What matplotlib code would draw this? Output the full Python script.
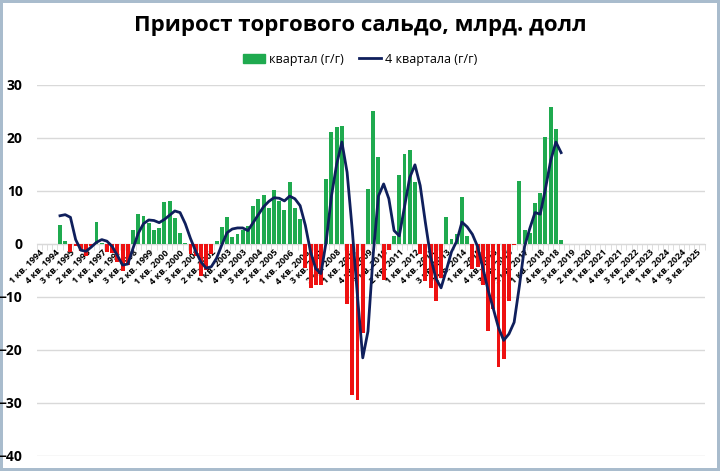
import numpy as np
import matplotlib.pyplot as plt
from matplotlib.patches import Patch
from matplotlib.lines import Line2D

plt.rcParams['font.family'] = ['Open Sans', 'DejaVu Sans']

# categories: 1 кв. 1994 ... 4 кв. 2025
years = list(range(1994, 2026))
quarters = [f'{q} кв. {y}' for y in years for q in range(1, 5)]
start = quarters.index('1 кв. 1995')

# quarterly y/y change, bn USD (1 кв. 1995 - 1 кв. 2019)
quarter_yy = [3.6, 0.5, -1.6, -0.4,
              -1.3, -2.2, -0.4, 4.2,
              0.2, -1.5, -1.8, -3.5,
              -5.2, -3.9, 2.6, 5.7,
              5.3, 4.0, 2.6, 2.9,
              7.8, 8.0, 4.8, 2.1,
              0.2, -2.0, -2.3, -6.0,
              -5.0, -2.0, 0.6, 3.1,
              5.1, 1.3, 1.9, 2.6,
              3.4, 7.2, 8.5, 9.2,
              6.8, 10.2, 8.1, 6.4,
              11.7, 6.8, 4.7, -4.5,
              -8.3, -7.8, -7.8, 12.3,
              21.0, 22.0, 22.3, -11.3,
              -28.5, -29.5, -16.8, 10.4,
              25.1, 16.3, -6.8, -1.2,
              1.5, 13.0, 17.0, 17.7,
              11.6, -1.9, -7.0, -8.3,
              -10.7, -6.5, 5.1, 0.9,
              1.9, 8.9, 1.5, -4.7,
              -4.4, -7.8, -16.5, -12.2,
              -23.3, -21.7, -10.8, -0.3,
              11.9, 2.6, 2.1, 7.7,
              9.6, 20.2, 25.8, 21.7,
              0.8]

# 4 quarters y/y
four_q_yy = [5.3, 5.5, 5.0, 0.8,
             -1.2, -1.4, -0.6, 0.3,
             0.8, 0.5, -0.5, -2.2,
             -4.0, -3.8, -0.8, 2.0,
             3.8, 4.5, 4.4, 4.0,
             4.6, 5.4, 6.2, 5.9,
             3.8, 1.0, -1.4, -3.4,
             -4.6, -4.3, -2.7, -0.2,
             2.1, 2.8, 3.0, 3.0,
             2.5, 4.0, 5.5, 7.0,
             8.0, 8.7, 8.6, 8.1,
             9.0, 8.5, 7.2, 3.5,
             -1.5, -4.7, -5.6, 0.5,
             9.0, 15.0, 19.2, 13.5,
             2.5, -10.0, -21.5, -16.5,
             -2.0, 9.0, 11.3, 8.5,
             2.5, 1.5, 7.0, 12.5,
             14.9, 11.0, 4.0, -2.5,
             -6.5, -8.3, -5.0, -1.5,
             0.5, 4.1, 3.2, 1.8,
             -0.5, -4.5, -8.7, -12.2,
             -15.8, -18.2, -17.0, -14.8,
             -8.0, -0.5, 2.9, 5.9,
             5.6, 10.4, 15.7, 19.2,
             17.2]

green = '#1faa4f'
red = '#ee1111'
navy = '#0f1f5c'

fig = plt.figure(figsize=(7.2, 4.71), dpi=100, edgecolor='#a9bccd', linewidth=3)
ax = fig.add_axes([0.0507, 0.032, 0.928, 0.788])

x = np.arange(start, start + len(quarter_yy))
vals = np.array(quarter_yy)
ax.bar(x, vals, width=0.75, color=np.where(vals >= 0, green, red), zorder=2)
ax.plot(x, four_q_yy, color=navy, lw=2, zorder=3)

ax.set_ylim(-40, 30)
ax.set_xlim(-0.5, len(quarters) - 0.5)
ax.set_yticks(range(-40, 31, 10))
ax.yaxis.grid(True, color='#d9d9d9', lw=1, zorder=0)
ax.tick_params(axis='y', length=0, pad=10, labelsize=10)
for t in ax.get_yticklabels():
    t.set_fontweight('bold')

for s in ['top', 'right', 'left']:
    ax.spines[s].set_visible(False)
ax.spines['bottom'].set_position(('data', 0))
ax.spines['bottom'].set_color('#d9d9d9')
ax.spines['bottom'].set_zorder(1)

ax.set_xticks(np.arange(0, len(quarters) - 1, 3))
ax.set_xticklabels(quarters[0:len(quarters) - 1:3], rotation=45, ha='right',
                   rotation_mode='anchor', fontsize=6.5, fontweight='bold')
ax.set_xticks(np.arange(-0.5, len(quarters), 1), minor=True)
ax.tick_params(axis='x', which='major', length=0, pad=3)
ax.tick_params(axis='x', which='minor', length=4, color='#d9d9d9')

fig.text(0.5, 0.945, 'Прирост торгового сальдо, млрд. долл', ha='center', va='center',
         fontsize=16, fontweight='bold')
handles = [Patch(color=green), Line2D([], [], color=navy, lw=2)]
fig.legend(handles, ['квартал (г/г)', '4 квартала (г/г)'], loc='center',
           bbox_to_anchor=(0.5, 0.874), ncol=2, frameon=False, fontsize=9,
           handlelength=1.8, handletextpad=0.3, columnspacing=1.2)

fig.savefig('out.png', dpi=100)
